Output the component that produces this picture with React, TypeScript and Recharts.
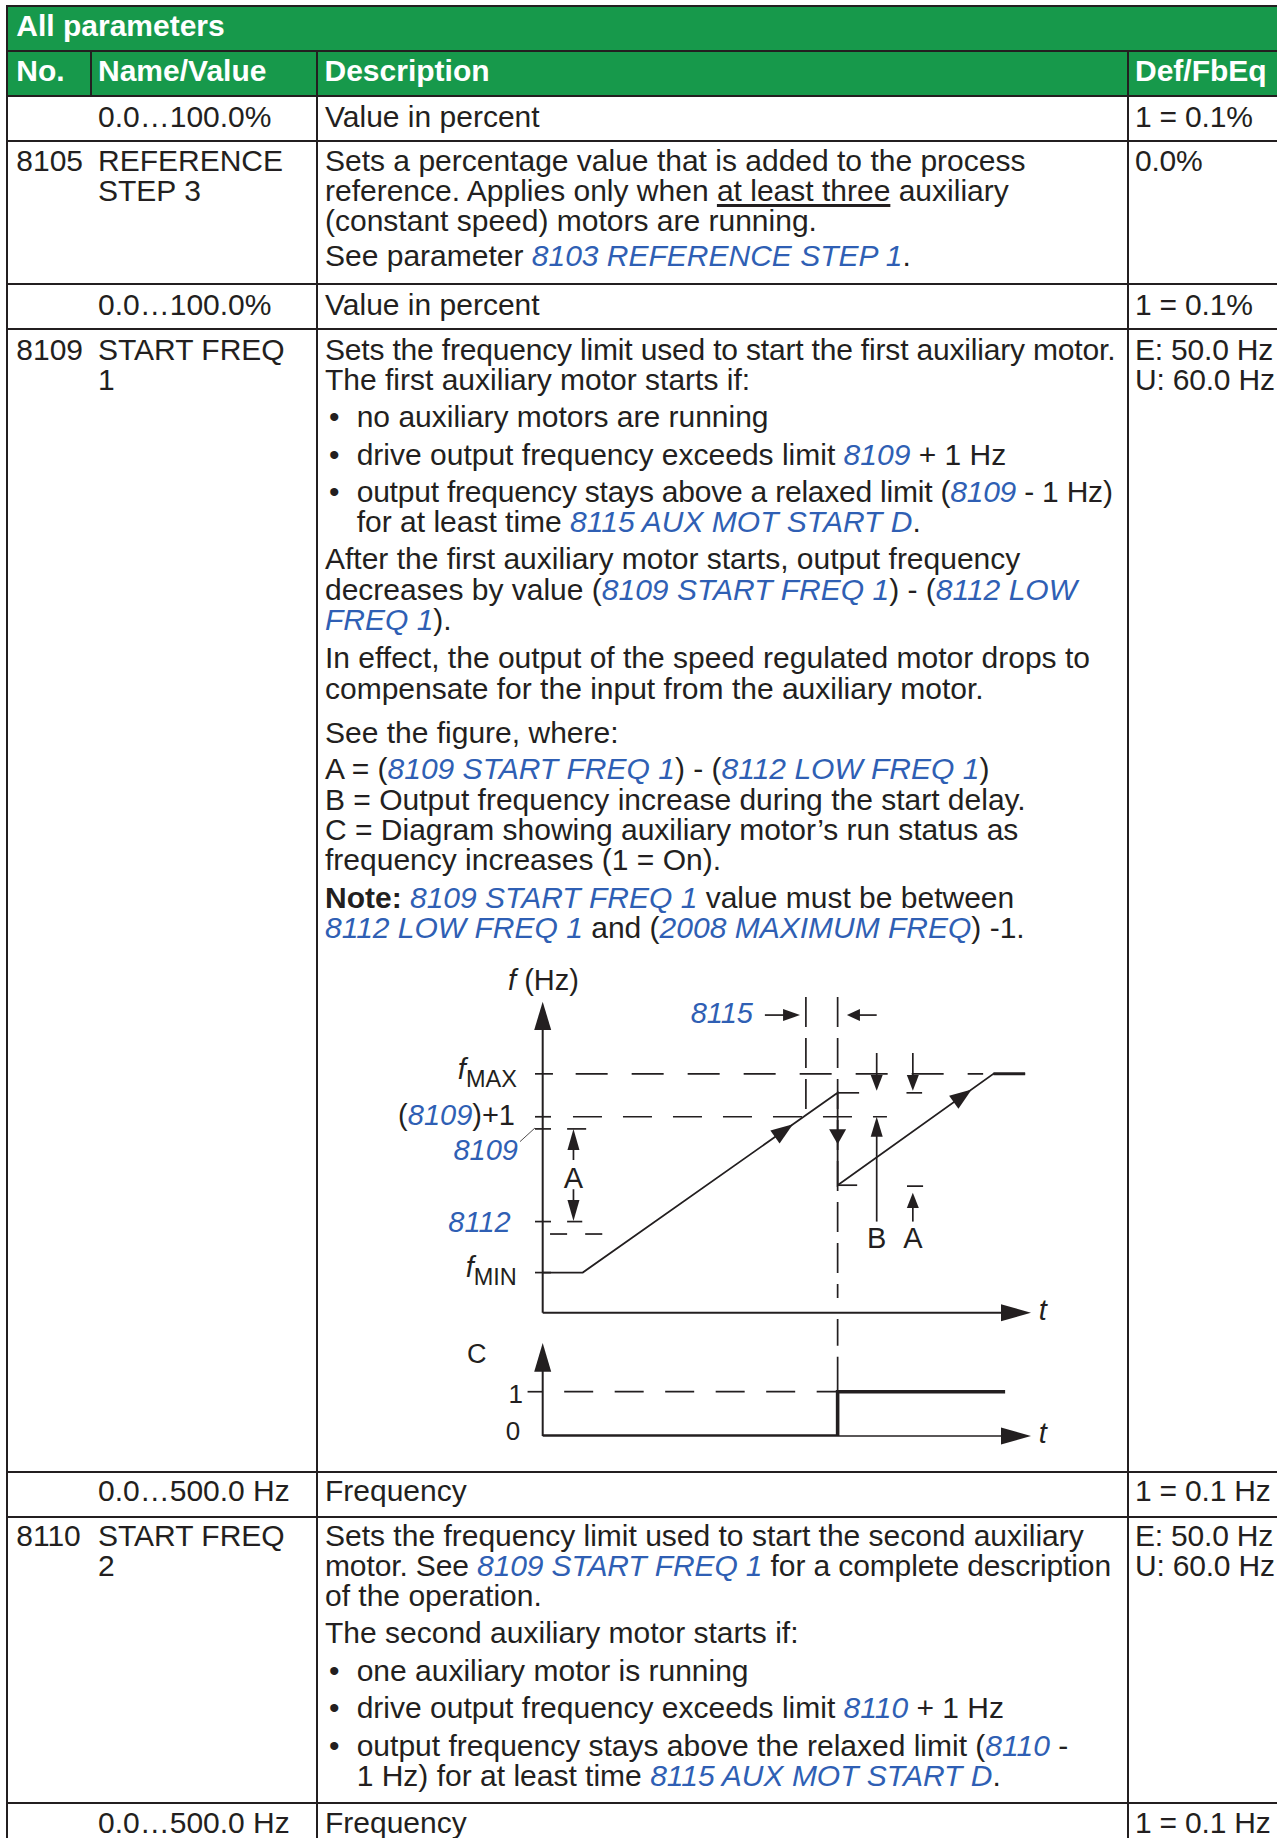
import React from 'react';
import { ComposedChart, Line, XAxis, YAxis, ReferenceLine, ReferenceDot } from 'recharts';

const FONT = '"Liberation Sans", Arial, Helvetica, sans-serif';
const INK = '#231f20';
const BLUE = '#2f5fb4';
const GREEN = '#17994b';

// ---------------- diagram data (abstract units: t 0..100, f 0..100) ----------------
const tDomain = [0, 100];
const fDomain = [0, 100];
const cDomain = [0, 2.1];

// frequency levels on the f axis
const levelNames = ['fMAX', '(8109)+1', '8109', '8112', 'fMIN'];
const levelF = [76.8, 63.0, 59.1, 29.3, 12.9];
const tickEnds = [2.1, 1.7, 1.7, 1.7, 1.7];

// output frequency of speed-regulated motor
const freqT = [0, 8.2, 60.4, 60.4, 92.3, 98.8];
const freqF = [12.9, 12.9, 70.7, 41.0, 76.8, 76.8];
const freqData = freqT.map((t, i) => ({ t, f: freqF[i] }));
const flatT = [92.3, 98.8];
const flatF = [76.8, 76.8];
const flatData = flatT.map((t, i) => ({ t, f: flatF[i] }));

// auxiliary motor run status (C)
const runT = [0, 60.4, 94.7];
const runC = [0, 1, 1];
const runData = runT.map((t, i) => ({ t, c: runC[i] }));

// key times / levels
const startT = 60.4; // aux motor starts
const delayT = 53.9; // start of 8115 delay
const peakF = 70.7;
const dropF = 41.0;

// level label anchor positions
const fLabelT = [-5.3, -5.67, -5.06, -6.55, -5.3];
const fLabelF = [72.7, 60.35, 49.1, 25.95, 8.9];

// ---------------- table text ----------------
const headerTitle = 'All parameters';
const headerCols: [number, string][] = [[16.3, 'No.'], [98, 'Name/Value'], [324.5, 'Description'], [1135, 'Def/FbEq']];
const hLines = [6, 51, 96, 141, 284, 329, 1472, 1516.5, 1803];
const noLines: [number, number, string][] = [[16.3, 171.7, '8105'], [16.3, 360, '8109'], [16.3, 1546.7, '8110']];
const nameLines: [number, number, string][] = [
  [98, 127.7, '0.0…100.0%'], [98, 171.7, 'REFERENCE'], [98, 201.7, 'STEP 3'], [98, 315, '0.0…100.0%'],
  [98, 360, 'START FREQ'], [98, 390, '1'], [98, 1501.7, '0.0…500.0 Hz'], [98, 1546.7, 'START FREQ'],
  [98, 1576.7, '2'], [98, 1833.3, '0.0…500.0 Hz'],
];
const defLines: [number, number, string][] = [
  [1135, 127.7, '1 = 0.1%'], [1135, 171.7, '0.0%'], [1135, 315, '1 = 0.1%'], [1135, 360, 'E: 50.0 Hz'],
  [1135, 390, 'U: 60.0 Hz'], [1135, 1501.7, '1 = 0.1 Hz'], [1135, 1546.7, 'E: 50.0 Hz'], [1135, 1576.7, 'U: 60.0 Hz'],
  [1135, 1833.3, '1 = 0.1 Hz'],
];
const descLines: [number, number, string, number?][] = [
  [325, 127.7, 'Value in percent'],
  [325, 171.7, 'Sets a percentage value that is added to the process'],
  [325, 201.7, 'reference. Applies only when {at least three} auxiliary'],
  [325, 231.7, '(constant speed) motors are running.'],
  [325, 266.7, 'See parameter [8103 REFERENCE STEP 1].'],
  [325, 315, 'Value in percent'],
  [325, 360, 'Sets the frequency limit used to start the first auxiliary motor.', -0.18],
  [325, 390, 'The first auxiliary motor starts if:'],
  [356.7, 427.7, 'no auxiliary motors are running'],
  [356.7, 465, 'drive output frequency exceeds limit [8109] + 1 Hz'],
  [356.7, 502.5, 'output frequency stays above a relaxed limit ([8109] - 1 Hz)', -0.22],
  [356.7, 532.8, 'for at least time [8115 AUX MOT START D].'],
  [325, 569.8, 'After the first auxiliary motor starts, output frequency'],
  [325, 600, 'decreases by value ([8109 START FREQ 1]) - ([8112 LOW]'],
  [325, 630.2, '[FREQ 1]).'],
  [325, 668.3, 'In effect, the output of the speed regulated motor drops to'],
  [325, 699.3, 'compensate for the input from the auxiliary motor.'],
  [325, 743.3, 'See the figure, where:'],
  [325, 779.3, 'A = ([8109 START FREQ 1]) - ([8112 LOW FREQ 1])'],
  [325, 810, 'B = Output frequency increase during the start delay.'],
  [325, 840, 'C = Diagram showing auxiliary motor’s run status as'],
  [325, 870, 'frequency increases (1 = On).'],
  [325, 908.3, '*Note:* [8109 START FREQ 1] value must be between'],
  [325, 938.3, '[8112 LOW FREQ 1] and ([2008 MAXIMUM FREQ]) -1.'],
  [325, 1501.7, 'Frequency'],
  [325, 1546.7, 'Sets the frequency limit used to start the second auxiliary'],
  [325, 1576.7, 'motor. See [8109 START FREQ 1] for a complete description', -0.12],
  [325, 1606.7, 'of the operation.'],
  [325, 1643.3, 'The second auxiliary motor starts if:'],
  [356.7, 1681.7, 'one auxiliary motor is running'],
  [356.7, 1718.3, 'drive output frequency exceeds limit [8110] + 1 Hz'],
  [356.7, 1756, 'output frequency stays above the relaxed limit ([8110] -'],
  [356.7, 1786.3, '1 Hz) for at least time [8115 AUX MOT START D].'],
  [325, 1833.3, 'Frequency'],
];
const bulletYs = [427.7, 465, 502.5, 1681.7, 1718.3, 1756];

// ---------------- helpers ----------------
function Rich({ s }: { s: string }) {
  const parts = s.split(/(\[[^\]]+\]|\{[^}]+\}|\*[^*]+\*)/g).filter(Boolean);
  return (
    <>
      {parts.map((p, i) => {
        if (p.startsWith('[')) return <span key={i} style={{ color: BLUE, fontStyle: 'italic' }}>{p.slice(1, -1)}</span>;
        if (p.startsWith('{')) return <span key={i} style={{ textDecoration: 'underline', textUnderlineOffset: 3 }}>{p.slice(1, -1)}</span>;
        if (p.startsWith('*')) return <span key={i} style={{ fontWeight: 'bold' }}>{p.slice(1, -1)}</span>;
        return <span key={i}>{p}</span>;
      })}
    </>
  );
}

const LH = 26;
const BASE_OFF = (LH - 33.51) / 2 + 27.15;

function TextLine({ x, b, s, color = INK, bold = false, ls = 0 }: { x: number; b: number; s: string; color?: string; bold?: boolean; ls?: number }) {
  return (
    <div style={{ position: 'absolute', left: x, top: b - BASE_OFF, lineHeight: LH + 'px', height: LH, fontSize: 30, whiteSpace: 'nowrap', color, fontWeight: bold ? 'bold' : 'normal', letterSpacing: ls }}>
      <Rich s={s} />
    </div>
  );
}

const arrow = (len: number, hw: number, shaft = true, width = 1.7) => (p: any) => {
  const { x1, y1, x2, y2 } = p;
  const dx = x2 - x1;
  const dy = y2 - y1;
  const d = Math.hypot(dx, dy) || 1;
  const ux = dx / d;
  const uy = dy / d;
  const bx = x2 - ux * len;
  const by = y2 - uy * len;
  const px = -uy * hw;
  const py = ux * hw;
  return (
    <g>
      {shaft && <line x1={x1} y1={y1} x2={bx + ux} y2={by + uy} stroke={INK} strokeWidth={width} />}
      <polygon points={`${x2},${y2} ${bx + px},${by + py} ${bx - px},${by - py}`} fill={INK} />
    </g>
  );
};

const textShape = (content: React.ReactNode, anchor: 'start' | 'middle' | 'end', size = 29, color = INK, italic = false) => (p: any) => (
  <text x={p.cx} y={p.cy} textAnchor={anchor} fontSize={size} fontFamily={FONT} fill={color} fontStyle={italic ? 'italic' : 'normal'}>
    {content}
  </text>
);

const seg = (x1: number, y1: number, x2: number, y2: number) => [{ x: x1, y: y1 }, { x: x2, y: y2 }];

function levelLabel(i: number) {
  const name = levelNames[i];
  if (name === 'fMAX' || name === 'fMIN') {
    return (
      <>
        <tspan fontStyle="italic" dy={-8}>f</tspan>
        <tspan fontSize={23.5} dy={8}>{name.slice(1)}</tspan>
      </>
    );
  }
  if (name === '(8109)+1') {
    return (
      <>
        <tspan>(</tspan>
        <tspan fill={BLUE} fontStyle="italic">8109</tspan>
        <tspan>)+1</tspan>
      </>
    );
  }
  return <tspan fill={BLUE} fontStyle="italic">{name}</tspan>;
}

function FreqDiagram() {
  const rl = (s: any, props: any = {}) => <ReferenceLine segment={s} ifOverflow="visible" stroke={INK} strokeWidth={1.7} {...props} />;
  return (
    <ComposedChart width={760} height={370} margin={{ top: 41.7, right: 59, bottom: 17.3, left: 212.7 }}>
      <XAxis type="number" dataKey="t" domain={tDomain} allowDataOverflow hide />
      <YAxis type="number" dataKey="f" domain={fDomain} allowDataOverflow hide />
      {/* axes */}
      {rl(seg(0, 0, 0, 100), { shape: arrow(28.3, 8.5, true, 2) })}
      {rl(seg(0, 0, 100, 0), { shape: arrow(30, 8.5, true, 2) })}
      {/* level ticks */}
      {levelF.map((f, i) => (
        <ReferenceLine key={'tk' + i} segment={seg(-1.58, f, tickEnds[i], f)} ifOverflow="visible" stroke={INK} strokeWidth={1.7} />
      ))}
      {/* dashed guides */}
      {rl(seg(6.75, levelF[0], 90.2, levelF[0]), { strokeDasharray: '32 24' })}
      {rl(seg(6.2, levelF[1], 70.5, levelF[1]), { strokeDasharray: '29 21' })}
      {rl(seg(5.0, levelF[2], 8.9, levelF[2]))}
      {rl(seg(5.0, levelF[3], 8.1, levelF[3]))}
      {rl(seg(1.5, 25.3, 5.0, 25.3))}
      {rl(seg(8.7, 25.3, 12.2, 25.3))}
      {rl(seg(startT, 101.5, startT, 4.7), { strokeDasharray: '30 11' })}
      {rl(seg(delayT, 101.5, delayT, levelF[1]), { strokeDasharray: '30 11' })}
      {rl(seg(startT, peakF, 64.8, peakF))}
      {rl(seg(startT, dropF, 64.4, dropF))}
      {rl(seg(74.5, peakF, 77.7, peakF))}
      {rl(seg(74.6, 40.7, 77.9, 40.7))}
      {rl(seg(-4.65, 55.0, -1.58, 59.4), { strokeWidth: 0.8 })}
      {/* output frequency */}
      <Line data={freqData} dataKey="f" type="linear" dot={false} activeDot={false} stroke={INK} strokeWidth={1.8} isAnimationActive={false} />
      <Line data={flatData} dataKey="f" type="linear" dot={false} activeDot={false} stroke={INK} strokeWidth={3} isAnimationActive={false} />
      {/* arrowheads on the curve */}
      {rl(seg(46, 54.76, 51.25, 60.57), { shape: arrow(22, 8, false) })}
      {rl(seg(82, 65.24, 87.85, 71.8), { shape: arrow(22, 8, false) })}
      {rl(seg(startT, 62, startT, 54.2), { shape: arrow(15, 8.5, false) })}
      {/* B and A dimension arrows */}
      {rl(seg(68.4, 29.3, 68.4, levelF[1]), { shape: arrow(20, 6) })}
      {rl(seg(68.4, 83.5, 68.4, 71.4), { shape: arrow(15.7, 6) })}
      {rl(seg(75.8, 83.5, 75.8, 71.4), { shape: arrow(15.7, 6) })}
      {rl(seg(75.8, 29.3, 75.8, 38.6), { shape: arrow(15.3, 6) })}
      {rl(seg(6.3, 49.1, 6.3, levelF[2]), { shape: arrow(21, 6) })}
      {rl(seg(6.3, 39.7, 6.3, 29.5), { shape: arrow(21, 6) })}
      {rl(seg(45.5, 95.7, 52.7, 95.7), { shape: arrow(17, 6) })}
      {rl(seg(68.4, 95.7, 62.3, 95.7), { shape: arrow(13, 6) })}
      {/* labels */}
      {levelNames.map((n, i) => (
        <ReferenceDot key={'lb' + n} x={fLabelT[i]} y={fLabelF[i]} r={0} ifOverflow="visible" shape={textShape(levelLabel(i), 'end', 29)} />
      ))}
      <ReferenceDot x={-7.1} y={103.8} r={0} ifOverflow="visible"
        shape={textShape(<><tspan fontStyle="italic">f</tspan><tspan> (Hz)</tspan></>, 'start', 29)} />
      <ReferenceDot x={43.07} y={93.05} r={0} ifOverflow="visible" shape={textShape('8115', 'end', 29, BLUE, true)} />
      <ReferenceDot x={68.4} y={20.8} r={0} ifOverflow="visible" shape={textShape('B', 'middle', 29)} />
      <ReferenceDot x={75.8} y={20.8} r={0} ifOverflow="visible" shape={textShape('A', 'middle', 29)} />
      <ReferenceDot x={6.3} y={40.1} r={0} ifOverflow="visible" shape={textShape('A', 'middle', 29)} />
      <ReferenceDot x={101.6} y={-2.35} r={0} ifOverflow="visible" shape={textShape('t', 'start', 29, INK, true)} />
    </ComposedChart>
  );
}

function RunDiagram() {
  const rl = (s: any, props: any = {}) => <ReferenceLine segment={s} ifOverflow="visible" stroke={INK} strokeWidth={1.7} {...props} />;
  return (
    <ComposedChart width={760} height={160} margin={{ top: 43, right: 59, bottom: 24, left: 212.7 }}>
      <XAxis type="number" dataKey="t" domain={tDomain} allowDataOverflow hide />
      <YAxis type="number" dataKey="c" domain={cDomain} allowDataOverflow hide />
      {rl(seg(0, 0, 0, 2.1), { shape: arrow(28.7, 8.5, true, 2) })}
      {rl(seg(0, 0, 100, 0), { shape: arrow(30, 8.5, true, 1.7) })}
      {rl(seg(-3.1, 1, 0, 1))}
      {rl(seg(4.4, 1, startT, 1), { strokeDasharray: '29 21.5' })}
      {rl(seg(startT, 1, startT, 2.64), { strokeDasharray: '35 11' })}
      <Line data={runData} dataKey="c" type="stepAfter" dot={false} activeDot={false} stroke={INK} strokeWidth={3.6} isAnimationActive={false} />
      <ReferenceDot x={-13.5} y={1.65} r={0} ifOverflow="visible" shape={textShape('C', 'middle', 27)} />
      <ReferenceDot x={-5.5} y={0.745} r={0} ifOverflow="visible" shape={textShape('1', 'middle', 26)} />
      <ReferenceDot x={-6.1} y={-0.09} r={0} ifOverflow="visible" shape={textShape('0', 'middle', 26)} />
      <ReferenceDot x={101.6} y={-0.16} r={0} ifOverflow="visible" shape={textShape('t', 'start', 29, INK, true)} />
    </ComposedChart>
  );
}

export default function App() {
  const hl = (y: number, i: number) => (
    <div key={'h' + i} style={{ position: 'absolute', left: 6.3, top: y - 1, width: 1290, height: 2, background: INK }} />
  );
  const vl = (x: number, y1: number, y2: number, k: string) => (
    <div key={k} style={{ position: 'absolute', left: x - 1, top: y1, width: 2, height: y2 - y1, background: INK }} />
  );
  return (
    <div style={{ position: 'absolute', left: 0, top: 0, width: 1277, height: 1838, overflow: 'hidden', background: '#fff', fontFamily: FONT, color: INK }}>
      <div style={{ position: 'absolute', left: 7, top: 6, width: 1290, height: 90, background: GREEN }} />
      {hLines.map(hl)}
      {vl(7.3, 6, 1838, 'vl0')}
      {vl(90.6, 51, 96, 'vl1')}
      {vl(316.7, 51, 1838, 'vl2')}
      {vl(1128.3, 51, 1838, 'vl3')}
      <TextLine x={16.3} b={36} s={headerTitle} color="#fff" bold />
      {headerCols.map(([x, s]) => <TextLine key={s} x={x} b={81.7} s={s} color="#fff" bold />)}
      {noLines.map(([x, b, s], i) => <TextLine key={'n' + i} x={x} b={b} s={s} />)}
      {nameLines.map(([x, b, s], i) => <TextLine key={'nm' + i} x={x} b={b} s={s} />)}
      {defLines.map(([x, b, s], i) => <TextLine key={'d' + i} x={x} b={b} s={s} ls={-0.2} />)}
      {descLines.map(([x, b, s, ls], i) => <TextLine key={'ds' + i} x={x} b={b} s={s} ls={ls || 0} />)}
      {bulletYs.map((b, i) => <TextLine key={'bu' + i} x={329} b={b} s="•" />)}
      <div style={{ position: 'absolute', left: 330, top: 960 }}>
        <FreqDiagram />
      </div>
      <div style={{ position: 'absolute', left: 330, top: 1300 }}>
        <RunDiagram />
      </div>
    </div>
  );
}
